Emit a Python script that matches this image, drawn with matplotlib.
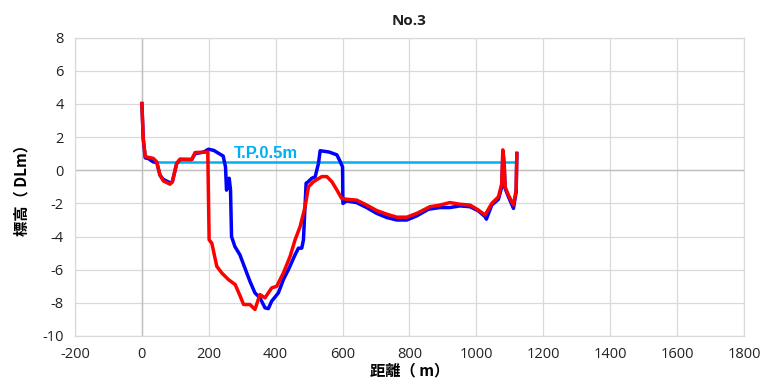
import matplotlib
matplotlib.use("Agg")
import matplotlib.pyplot as plt

# profile values
dist_blue = [0, 4, 10, 20, 30, 45, 54, 64, 84, 91, 104, 114, 149, 159, 185, 199, 215, 228,
             243, 250, 253, 256, 261, 265, 268, 278, 293, 308, 323, 338, 353, 368, 378, 388,
             408, 423, 438, 458, 468, 478, 483, 491, 498, 508, 518, 528, 533, 560, 583, 593,
             600, 601, 612, 642, 672, 702, 732, 762, 792, 822, 857, 891, 921, 951, 981, 1006,
             1026, 1030, 1046, 1066, 1076, 1079, 1083, 1086, 1096, 1111, 1119, 1121]
elev_blue = [4.0, 1.9, 0.75, 0.7, 0.55, 0.45, -0.3, -0.55, -0.75, -0.7, 0.4, 0.65, 0.65, 1.0,
             1.1, 1.27, 1.2, 1.04, 0.86, 0.2, -1.2, -1.0, -0.48, -1.19, -4.0, -4.6, -5.1, -5.9,
             -6.7, -7.4, -7.7, -8.3, -8.35, -7.9, -7.4, -6.6, -6.0, -5.1, -4.7, -4.7, -4.2,
             -0.78, -0.68, -0.48, -0.4, 0.42, 1.18, 1.1, 0.93, 0.52, 0.2, -2.0, -1.85, -1.95,
             -2.25, -2.6, -2.85, -3.0, -3.0, -2.75, -2.35, -2.25, -2.25, -2.15, -2.2, -2.45,
             -2.8, -2.95, -2.1, -1.75, -1.0, 0.8, 0.3, -1.1, -1.6, -2.3, -1.3, 1.0]

dist_red = [0, 4, 10, 34, 44, 54, 64, 84, 91, 104, 114, 149, 159, 194, 197, 201, 209, 224,
            239, 259, 279, 294, 304, 323, 338, 353, 368, 388, 403, 423, 443, 458, 473, 488,
            498, 513, 538, 553, 568, 583, 597, 612, 642, 672, 702, 732, 762, 792, 822, 861,
            891, 921, 951, 981, 1006, 1026, 1046, 1066, 1076, 1079, 1083, 1086, 1096, 1111,
            1119, 1121]
elev_red = [4.04, 1.93, 0.82, 0.72, 0.52, -0.28, -0.64, -0.84, -0.7, 0.42, 0.67, 0.65, 1.07,
            1.1, 1.1, -4.2, -4.4, -5.8, -6.2, -6.6, -6.9, -7.6, -8.1, -8.1, -8.4, -7.5, -7.7,
            -7.1, -7.0, -6.2, -5.2, -4.2, -3.4, -2.2, -1.0, -0.69, -0.38, -0.38, -0.69, -1.19,
            -1.69, -1.75, -1.8, -2.1, -2.43, -2.65, -2.83, -2.83, -2.6, -2.2, -2.1, -1.95,
            -2.05, -2.1, -2.4, -2.7, -2.0, -1.6, -0.8, 1.23, 0.62, -1.0, -1.5, -2.1, -1.19, 1.03]

tp_dist = [34, 1118]
tp_level = [0.5, 0.5]

x_ticks = list(range(-200, 1801, 200))
y_ticks = list(range(-10, 9, 2))

jp_font = ["Noto Sans CJK JP", "DejaVu Sans"]
plt.rcParams["font.family"] = ["Open Sans", "DejaVu Sans"]
plt.rcParams["axes.unicode_minus"] = False

fig = plt.figure(figsize=(7.63, 3.92), dpi=100)
ax = fig.add_axes([0.0983, 0.1429, 0.8767, 0.7609])

grid_col = "#D9D9D9"
ax.set_xlim(-200, 1800)
ax.set_ylim(-10, 8)
ax.set_xticks(x_ticks)
ax.set_yticks(y_ticks)
ax.grid(True, color=grid_col, linewidth=0.9)
ax.set_axisbelow(True)
ax.axvline(0, color="#BFBFBF", linewidth=1.0, zorder=1)
ax.axhline(0, color="#BFBFBF", linewidth=1.0, zorder=1)
for sp in ax.spines.values():
    sp.set_color(grid_col)
    sp.set_linewidth(0.9)
ax.tick_params(length=0, labelsize=10.5, colors="#222222", pad=8)

ax.plot(tp_dist, tp_level, color="#00B0F0", linewidth=1.8, zorder=2)
ax.plot(dist_blue, elev_blue, color="#0000FF", linewidth=2.5, zorder=3)
ax.plot(dist_red, elev_red, color="#FF0000", linewidth=2.5, zorder=4)
ax.text(275, 0.55, "T.P.0.5m", family=["Liberation Sans"], color="#00B0F0",
        fontsize=12, fontweight="bold", ha="left", va="bottom", zorder=5)

ax.set_title("No.3", fontsize=11, fontweight="bold", color="#202020", pad=9)
ax.set_xlabel("距離（ m）", family=jp_font, fontsize=11, fontweight="bold", labelpad=0)
ax.set_ylabel("標高（ DLm）", family=jp_font, fontsize=11, fontweight="bold", labelpad=9)

fig.savefig("out.png", dpi=100)
